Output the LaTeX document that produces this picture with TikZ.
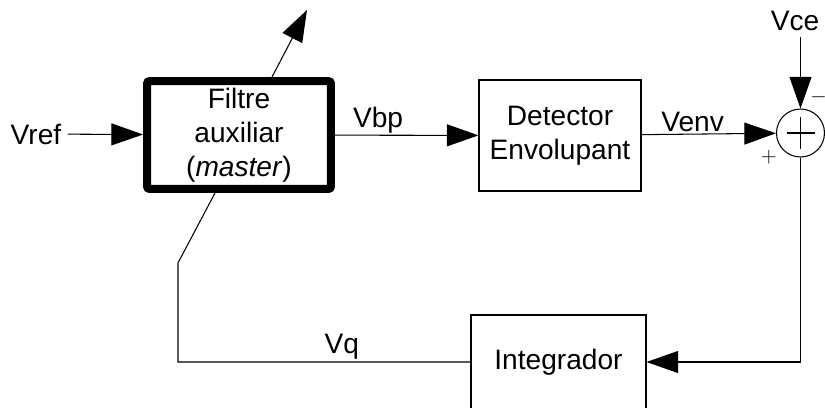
\documentclass[tikz,border=0pt]{standalone}
\usepackage{fontspec}
\setmainfont{Liberation Sans}
\usetikzlibrary{arrows.meta,calc}

\begin{document}
\begin{tikzpicture}[x=0.02cm,y=0.02cm,>={Triangle[length=18pt,width=12.5pt]},
  line width=0.6pt,font=\fontsize{16}{19.5}\selectfont,
  block/.style={rectangle,draw,align=center,inner sep=0pt},
  thick block/.style={block,line width=0.16cm,rounded corners=1.5pt},
  sum node/.style={circle,draw,minimum size=0.96cm,inner sep=0pt},
  lbl/.style={above,inner sep=1pt},
  sign/.style={font=\fontsize{13}{13}\selectfont,inner sep=0pt}]

  \useasboundingbox (0,0) rectangle (825,407);

  \node[thick block,minimum width=3.68cm,minimum height=2.16cm] (filtre) at (239,272)
    {Filtre\\auxiliar\\(\textit{master})};
  \node[block,minimum width=3.24cm,minimum height=2.22cm] (detector) at (560,271.5)
    {Detector\\Envolupant};
  \node[sum node] (sum) at (800.5,274) {};
  \node[block,minimum width=3.5cm,minimum height=1.88cm] (integ) at (558.5,45) {Integrador};

  \node (vref) at (36,273) {Vref};
  \node (vce) at (795,386) {Vce};
  \node[sign] at (818.5,310) {$-$};
  \node[sign] at (769,250) {$+$};
  \coordinate (tune) at (307,397);
  \coordinate (bend) at (178,144);

  % plus inside the summing point
  \draw (sum.center) ++(-14,0) -- ++(28,0);
  \draw (sum.center) ++(0,-16) -- ++(0,32);

  \draw[->] (vref) -- (filtre);
  \draw[->] ($(filtre.north west)!0.672!(filtre.north east)$) -- (tune);
  \draw[->] (filtre) -- node[lbl,pos=0.3] {Vbp} (detector);
  \draw[->] (detector) -- node[lbl,pos=0.38] {Venv} (sum);
  \draw[->] (sum.north |- vce.south) -- (sum.north);
  \draw[->] (sum.south) |- (integ.east);
  \draw (integ.west) -- node[lbl,pos=0.44] {Vq} (integ.west -| bend) -- (bend)
    -- ($(filtre.south west)!0.375!(filtre.south east)$);
\end{tikzpicture}
\end{document}
